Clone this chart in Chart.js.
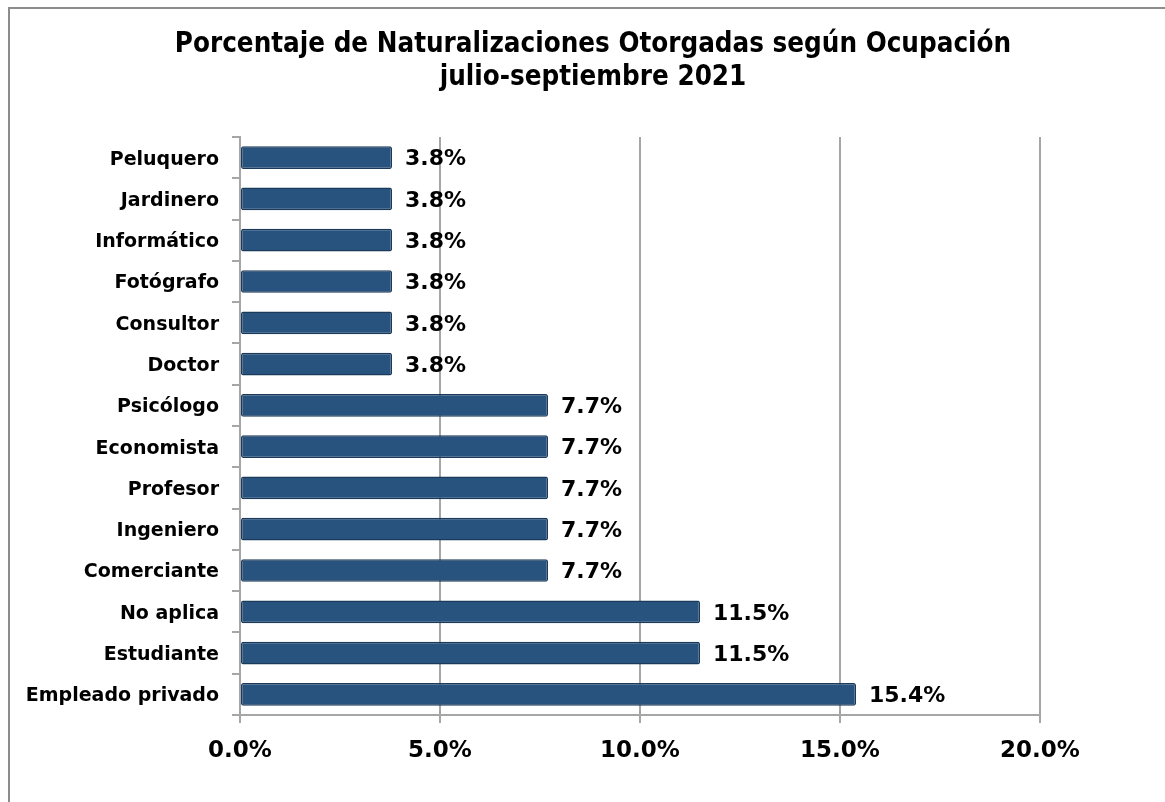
<!DOCTYPE html>
<html>
<head>
<meta charset="utf-8">
<script src="https://cdn.jsdelivr.net/npm/chart.js@4.4.0/dist/chart.umd.min.js"></script>
<style>
  html, body { margin: 0; padding: 0; background: #fff; }
  #wrap { position: relative; width: 1165px; height: 802px; }
  #frame { position: absolute; left: 8px; top: 7px; right: 0; bottom: 0; border-top: 2px solid #8c8c8c; border-left: 2px solid #8c8c8c; }
  canvas { position: absolute; left: 0; top: 0; }
</style>
</head>
<body>
<div id="wrap">
  <div id="frame"></div>
  <canvas id="chart" width="1165" height="802"></canvas>
</div>
<script>
// Datos (orden de arriba hacia abajo)
const ocupaciones = [
  'Peluquero', 'Jardinero', 'Informático', 'Fotógrafo', 'Consultor', 'Doctor',
  'Psicólogo', 'Economista', 'Profesor', 'Ingeniero', 'Comerciante',
  'No aplica', 'Estudiante', 'Empleado privado'
];
const porcentajes = [3.8, 3.8, 3.8, 3.8, 3.8, 3.8, 7.7, 7.7, 7.7, 7.7, 7.7, 11.5, 11.5, 15.4];
const tituloLineas = [
  'Porcentaje de Naturalizaciones Otorgadas según Ocupación',
  'julio-septiembre 2021'
];
const ejeMax = 20;
const ejePaso = 5;

const FONT = "'DejaVu Sans', Verdana, sans-serif";
const FONT_TITLE = "'DejaVu Sans Condensed', 'DejaVu Sans', sans-serif";

// Título dibujado a mano para centrarlo como en el original
const tituloPlugin = {
  id: 'tituloPlugin',
  afterDraw(chart) {
    const ctx = chart.ctx;
    ctx.save();
    ctx.fillStyle = '#000';
    ctx.font = `bold 27.5px ${FONT_TITLE}`;
    ctx.textAlign = 'center';
    ctx.textBaseline = 'middle';
    ctx.fillText(tituloLineas[0], 593, 45);
    ctx.fillText(tituloLineas[1], 593, 78);
    ctx.restore();
  }
};

// Etiquetas de valor al final de cada barra
const etiquetasPlugin = {
  id: 'etiquetasPlugin',
  afterDatasetsDraw(chart) {
    const ctx = chart.ctx;
    const meta = chart.getDatasetMeta(0);
    ctx.save();
    ctx.fillStyle = '#000';
    ctx.font = `bold 22px ${FONT}`;
    ctx.textAlign = 'left';
    ctx.textBaseline = 'middle';
    meta.data.forEach((bar, i) => {
      ctx.fillText(porcentajes[i].toFixed(1) + '%', bar.x + 13, bar.y + 2);
    });
    ctx.restore();
  }
};

const ctx = document.getElementById('chart').getContext('2d');
new Chart(ctx, {
  type: 'bar',
  data: {
    labels: ocupaciones,
    datasets: [{
      data: porcentajes,
      backgroundColor: '#28537f',
      borderColor: '#1b3a5a',
      borderWidth: 1.5,
      borderSkipped: false,
      borderRadius: 2,
      barPercentage: 0.55,
      categoryPercentage: 1
    }]
  },
  options: {
    indexAxis: 'y',
    responsive: false,
    animation: false,
    layout: { padding: { top: 137, right: 125, left: 0, bottom: 0 } },
    plugins: {
      legend: { display: false },
      title: { display: false },
      tooltip: { enabled: false }
    },
    scales: {
      x: {
        min: 0,
        max: ejeMax,
        ticks: {
          stepSize: ejePaso,
          padding: 14,
          color: '#000',
          font: { family: FONT, size: 23, weight: 'bold' },
          callback: v => v.toFixed(1) + '%'
        },
        grid: { color: '#a6a6a6', lineWidth: 2, tickLength: 8 },
        border: { color: '#a6a6a6', width: 2 },
        afterFit: s => { s.height = 87; }
      },
      y: {
        ticks: {
          padding: 13,
          labelOffset: 2,
          color: '#000',
          font: { family: FONT, size: 19, weight: 'bold' }
        },
        grid: { drawOnChartArea: false, color: '#a6a6a6', lineWidth: 2, tickLength: 8 },
        border: { color: '#a6a6a6', width: 2 },
        afterFit: s => { s.width = 240; }
      }
    }
  },
  plugins: [tituloPlugin, etiquetasPlugin]
});
</script>
</body>
</html>
